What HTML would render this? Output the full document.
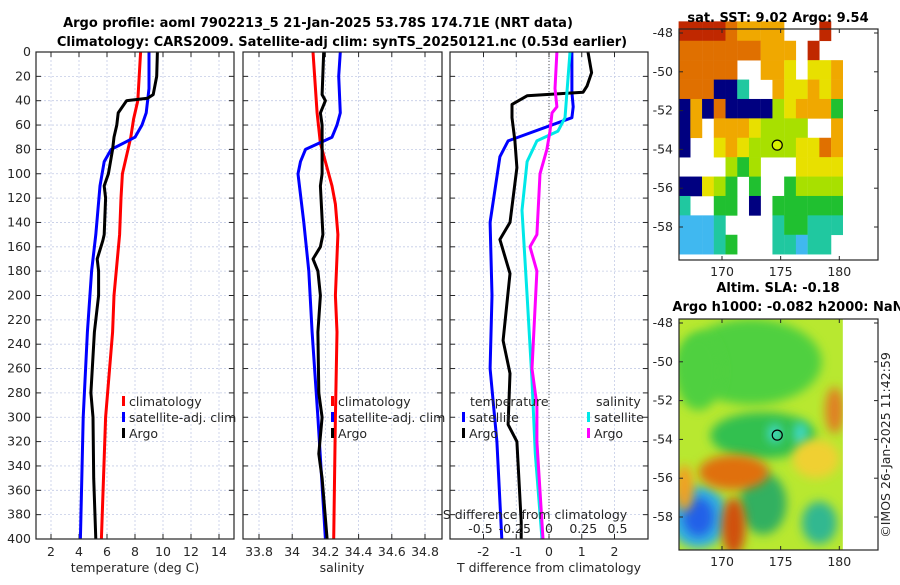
<!DOCTYPE html>
<html><head><meta charset="utf-8">
<style>
body{margin:0;background:#fff;}
svg{font-family:"DejaVu Sans","Liberation Sans",sans-serif;}
.t{font-size:12.5px;fill:#262626}
.ti{font-size:13px;font-weight:bold;fill:#000}
</style></head>
<body>
<svg id="c" width="900" height="580" viewBox="0 0 900 580" xmlns="http://www.w3.org/2000/svg">
<rect width="900" height="580" fill="#fff"/>
<text class="ti" x="318" y="27" text-anchor="middle">Argo profile: aoml 7902213_5 21-Jan-2025 53.78S 174.71E (NRT data)</text>
<text class="ti" x="342" y="46" text-anchor="middle">Climatology: CARS2009. Satellite-adj clim: synTS_20250121.nc (0.53d earlier)</text>
<g id="maps"></g>
<g id="plots"></g>
</svg>
<script>
// ---- data ----
const depthTicks=[0,20,40,60,80,100,120,140,160,180,200,220,240,260,280,300,320,340,360,380,400];
const tempTicks=[2,4,6,8,10,12,14];
const salTicks=[33.8,34,34.2,34.4,34.6,34.8];
const tdiffTicks=[-2,-1,0,1,2];
const sdiffTicks=[-0.5,-0.25,0,0.25,0.5];
// temperature panel
const argoTdepth=[0,20,35,38,40,50,60,70,80,100,110,120,150,155,170,180,200,230,280,300,350,400];
const argoT=[9.6,9.55,9.3,8.9,7.4,6.8,6.7,6.5,6.4,6.1,5.8,5.9,5.8,5.7,5.3,5.4,5.4,5.1,4.85,5.0,5.05,5.2];
const climTdepth=[0,20,40,55,70,80,100,120,150,200,230,300,400];
const climT=[8.4,8.3,8.2,7.9,7.7,7.5,7.1,7.0,6.9,6.5,6.4,5.9,5.6];
const satTdepth=[0,30,50,60,70,80,90,110,150,180,230,300,400];
const satT=[9.0,9.0,8.8,8.5,8.0,6.3,5.8,5.5,5.2,4.9,4.6,4.3,4.1];
// salinity panel
const argoSdepth=[0,35,40,50,60,100,110,150,160,170,180,200,230,280,300,330,340,350,400];
const argoS=[34.19,34.18,34.2,34.17,34.18,34.18,34.17,34.185,34.17,34.125,34.155,34.17,34.155,34.16,34.18,34.16,34.17,34.18,34.21];
const climSdepth=[0,50,75,90,110,125,150,200,230,300,400];
const climS=[34.125,34.15,34.17,34.2,34.24,34.26,34.275,34.26,34.27,34.26,34.25];
const satSdepth=[0,20,50,60,70,80,90,100,140,180,230,300,400];
const satS=[34.29,34.28,34.29,34.27,34.24,34.08,34.05,34.035,34.07,34.1,34.12,34.155,34.2];
// difference panel
const dArgoTdepth=[0,17,28,33,36,43,54,73,95,140,154,182,237,264,306,320,386,400];
const dArgoT=[1.19,1.3,1.16,1.04,-0.67,-1.13,-1.13,-1.04,-0.98,-1.19,-1.5,-1.19,-1.4,-1.19,-1.25,-0.98,-0.85,-0.85];
const dSatTdepth=[0,33,45,54,73,86,140,200,260,320,400];
const dSatT=[0.7,0.7,0.74,0.7,-1.25,-1.5,-1.8,-1.74,-1.8,-1.59,-1.44];
const dSatSdepth=[0,54,65,73,90,130,200,270,330,400];
const dSatS=[0.153,0.117,0.066,-0.088,-0.16,-0.197,-0.16,-0.124,-0.1,-0.051];
const dArgoSdepth=[0,30,45,50,65,80,100,150,160,180,260,290,320,400];
const dArgoS=[0.058,0.044,0.058,0.022,0.007,-0.015,-0.066,-0.088,-0.139,-0.088,-0.124,-0.088,-0.088,-0.044];
// SST map grid: rows from lat -47.4 southward (1 deg), cols from lon 166.3 eastward (1 deg)
const sstRows=[
"RRRROAAAAWWWRW",
"OOOOOOOAAAWRWW",
"OOOOOWWAAYWYYA",
"OOOBBTWWAYYAYA",
"BABOBBBBLYAAAG",
"BAWAAAYLLLLWWA",
"BWWYAYLLLLYYOA",
"WWWWLGLWWWYYYY",
"BBYLGWGWWGLLLL",
"TWWGGWBWGGGGGG",
"CCCTWWWWTGGTTT",
"CCCTGWWWTTCTTW"];
const sstColors={R:'#c02800',O:'#e07000',A:'#f0a800',Y:'#e8e000',L:'#a8e000',G:'#20c030',T:'#20c8a0',C:'#40b8f0',B:'#000080'};

// ---- axes ----
const Y0=52,Y1=539;
const yD=d=>Y0+(d/400)*(Y1-Y0);
const xT=t=>135+(t-8)*14;
const xS=s=>259+(s-33.8)*166;
const xDT=v=>549+v*32.75;
const xDS=v=>549+v*137;
const NS='http://www.w3.org/2000/svg';
const plots=document.getElementById('plots');
function mk(tag,attrs,parent){const e=document.createElementNS(NS,tag);for(const k in attrs)e.setAttribute(k,attrs[k]);(parent||plots).appendChild(e);return e;}
function txt(x,y,s,anchor,cls){const e=mk('text',{x:x,y:y,'text-anchor':anchor||'middle','class':cls||'t'});e.textContent=s;return e;}

function panel(x0,x1,name,xticks,xf,gridTicks){
  const g=mk('g',{});
  
  
  depthTicks.forEach(d=>{const l=mk('line',{x1:x0,x2:x1,y1:yD(d),y2:yD(d),stroke:'#c4cce6','stroke-width':0.8,'stroke-dasharray':'2,2'},g);});
  gridTicks.forEach(v=>{const l=mk('line',{x1:xf(v),x2:xf(v),y1:Y0,y2:Y1,stroke:'#c4cce6','stroke-width':0.8,'stroke-dasharray':'2,2'},g);});
  depthTicks.forEach(d=>{mk('line',{x1:x0,x2:x0+5,y1:yD(d),y2:yD(d),stroke:'#262626'},g);mk('line',{x1:x1-5,x2:x1,y1:yD(d),y2:yD(d),stroke:'#262626'},g);});
  xticks.forEach(v=>{mk('line',{x1:xf(v),x2:xf(v),y1:Y1,y2:Y1-5,stroke:'#262626'},g);mk('line',{x1:xf(v),x2:xf(v),y1:Y0,y2:Y0+5,stroke:'#262626'},g);});
  return g;
}
function series(g,depths,vals,xf,color,name){
  const pts=depths.map((d,i)=>xf(vals[i]).toFixed(1)+','+yD(d).toFixed(1)).join(' ');
  const p=mk('polyline',{points:pts,fill:'none',stroke:color,'stroke-width':3,'stroke-linejoin':'round'},g);
  
  
}
function frame(g,x0,x1){mk('rect',{x:x0,y:Y0,width:x1-x0,height:Y1-Y0,fill:'none',stroke:'#262626','stroke-width':1.2},g);}
function legend(g,x,y,items){
  items.forEach((it,i)=>{
    const r=mk('rect',{x:x,y:y+i*16-10,width:3,height:10,fill:it[1]},g);
    
    
    const t=txt(x+7,y+i*16,it[0],'start');
    g.appendChild(t);
    
    
  });
}
depthTicks.forEach(d=>{const t=txt(31,yD(d)+4,String(d),'end');});

// panel 1
const g1=panel(36,234,'temperature-panel',tempTicks,xT,tempTicks);
series(g1,climTdepth,climT,xT,'#ff0000','climatology-temp-line');
series(g1,satTdepth,satT,xT,'#0000ff','satellite-temp-line');
series(g1,argoTdepth,argoT,xT,'#000000','argo-temp-line');
frame(g1,36,234);
legend(g1,122,406,[['climatology','#ff0000'],['satellite-adj. clim','#0000ff'],['Argo','#000']]);
tempTicks.forEach(v=>{const t=txt(xT(v),556,String(v));});
{const t=txt(135,572,'temperature (deg C)');}

// panel 2
const g2=panel(243,442,'salinity-panel',salTicks,xS,salTicks);
series(g2,climSdepth,climS,xS,'#ff0000','climatology-sal-line');
series(g2,satSdepth,satS,xS,'#0000ff','satellite-sal-line');
series(g2,argoSdepth,argoS,xS,'#000000','argo-sal-line');
frame(g2,243,442);
legend(g2,331,406,[['climatology','#ff0000'],['satellite-adj. clim','#0000ff'],['Argo','#000']]);
salTicks.forEach(v=>{const t=txt(xS(v),556,String(v));});
{const t=txt(342,572,'salinity');}

// panel 3
const g3=panel(450,648,'difference-panel',tdiffTicks,xDT,tdiffTicks);
{const z=mk('line',{x1:xDT(0),x2:xDT(0),y1:Y0,y2:Y1,stroke:'#555','stroke-dasharray':'1,2'},g3);}
series(g3,dSatTdepth,dSatT,xDT,'#0000ff','sat-tdiff-line');
series(g3,dArgoTdepth,dArgoT,xDT,'#000000','argo-tdiff-line');
series(g3,dSatSdepth,dSatS,xDS,'#00e8e8','sat-sdiff-line');
series(g3,dArgoSdepth,dArgoS,xDS,'#ff00ff','argo-sdiff-line');
frame(g3,450,648);
{const t=txt(470,406,'temperature','start');}
{const t=txt(596,406,'salinity','start');}
legend(g3,462,422,[['satellite','#0000ff'],['Argo','#000']]);
legend(g3,587,422,[['satellite','#00e8e8'],['Argo','#ff00ff']]);
{const t=txt(535,519,'S difference from climatology');}
sdiffTicks.forEach(v=>{const t=txt(xDS(v),533,String(v));});
tdiffTicks.forEach(v=>{const t=txt(xDT(v),556,String(v));});
{const t=txt(549,572,'T difference from climatology');}

// ---- maps ----
const maps=document.getElementById('maps');
const lonTicks=[170,175,180];
const latTicks=[-48,-50,-52,-54,-56,-58];
const xL=lon=>722+(lon-170)*11.73;
const yTop=lat=>33+(-48-lat)*19.4;
const yBot=lat=>323+(-48-lat)*19.4;
function mapGroup(name){
  const g=mk('g',{},maps);
  
  
  return g;
}
const gm1=mapGroup('sst-map');
sstRows.forEach((row,ri)=>{
  for(let ci=0;ci<row.length;ci++){
    const code=row[ci]; if(code==='W') continue;
    const lon0=166.3+ci, lat0=-47.4-ri, lat1=Math.max(lat0-1,-59.6);
    const r=mk('rect',{x:xL(lon0),y:yTop(lat0),width:11.9,height:yTop(lat1)-yTop(lat0)+0.3,fill:sstColors[code]},gm1);
    
    
  }
});
const gm2=mapGroup('sla-map');
const slaBlobs=[[172.5,-50,6,2.2,'#50d040'],[168,-50.5,2,2,'#50d040'],[173.5,-53.8,4.5,1.2,'#30c050'],[168,-58,2.5,1.6,'#30b0e0'],[168,-58,1.3,1,'#2060e8'],[173.5,-57.3,2,1.6,'#30b060'],
[178.3,-58.3,1.5,1.1,'#30b890'],[171,-55.7,3,0.9,'#e07010'],[171,-58.5,1,1.5,'#d05010'],[179.6,-52.5,0.8,1.2,'#e08020'],
[174.5,-53.7,0.6,0.5,'#40d8c8'],[176.7,-53.7,0.6,0.6,'#40d8c8'],[178,-55,2,1,'#f0d030'],[166.8,-56.5,0.8,1.2,'#f0a020']];
{const r=mk('rect',{x:679,y:319,width:xL(180.3)-679,height:231,fill:'#b8e830'},gm2);}
const defs=mk('defs',{},maps);const f=mk('filter',{id:'bl',x:'-50%',y:'-50%',width:'200%',height:'200%'},defs);mk('feGaussianBlur',{stdDeviation:5},f);
const cp=mk('clipPath',{id:'cpb'},defs);mk('rect',{x:679,y:319,width:xL(180.3)-679,height:231},cp);
const gb=mk('g',{'clip-path':'url(#cpb)'},gm2);
slaBlobs.forEach(b=>{const e=mk('ellipse',{cx:xL(b[0]),cy:yBot(b[1]),rx:b[2]*11.73,ry:b[3]*19.4,fill:b[4],filter:'url(#bl)'},gb);});
[[gm1,29,260,yTop],[gm2,319,550,yBot]].forEach(([g,ya,yb,yf])=>{
  mk('rect',{x:679,y:ya,width:199,height:yb-ya,fill:'none',stroke:'#262626','stroke-width':1.2},g);
  latTicks.forEach(l=>{mk('line',{x1:679,x2:683,y1:yf(l),y2:yf(l),stroke:'#262626'},g);mk('line',{x1:874,x2:878,y1:yf(l),y2:yf(l),stroke:'#262626'},g);
    const t=txt(673,yf(l)+4,String(l),'end');});
  lonTicks.forEach(l=>{mk('line',{x1:xL(l),x2:xL(l),y1:yb,y2:yb-4,stroke:'#262626'},g);mk('line',{x1:xL(l),x2:xL(l),y1:ya,y2:ya+4,stroke:'#262626'},g);
    const t=txt(xL(l),yb+16,String(l));});
  const c=mk('circle',{cx:xL(174.71),cy:yf(-53.78),r:5,fill:yf===yTop?'#d8f000':'none',stroke:'#000','stroke-width':1.2},g);
  
});
{const t=txt(778,22,'sat. SST: 9.02 Argo: 9.54','middle','ti');}
{const t=txt(778,292,'Altim. SLA: -0.18','middle','ti');}
{const t=txt(788,311,'Argo h1000: -0.082 h2000: NaN','middle','ti');}
{const t=txt(0,0,'©IMOS 26-Jan-2025 11:42:59','middle');t.setAttribute('transform','translate(890,445) rotate(-90)');}
</script>
</body></html>
